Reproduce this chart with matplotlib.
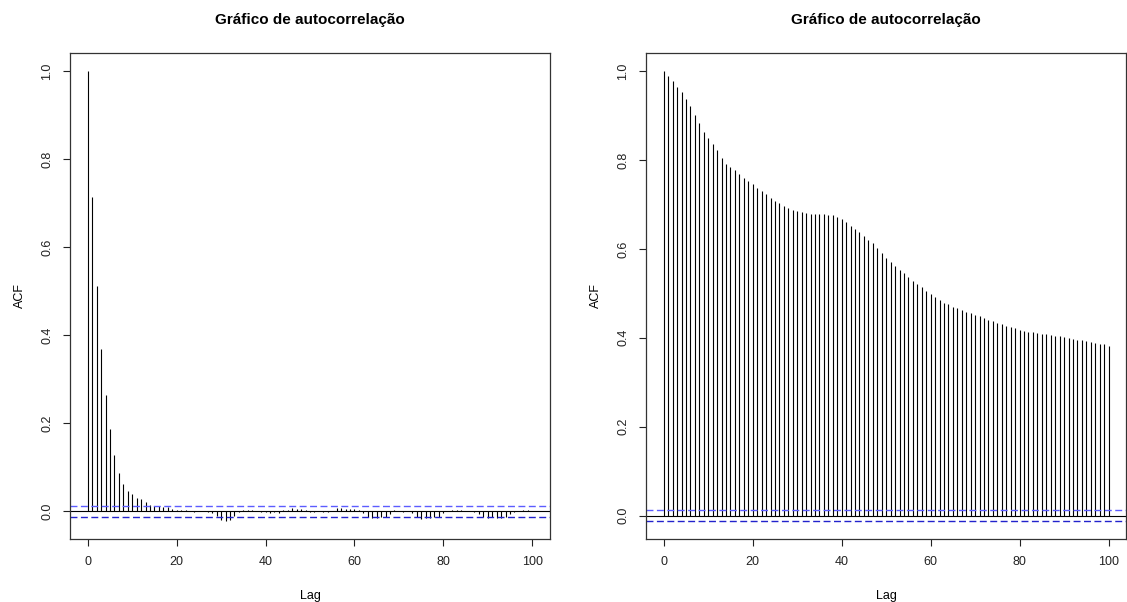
import numpy as np
import matplotlib
matplotlib.use("Agg")
import matplotlib.pyplot as plt

plt.rcParams['font.family'] = ['Liberation Sans', 'DejaVu Sans']

lags = np.arange(0, 101)

# ACF of the first series (fast decay)
acf_left = [1.0, 0.714, 0.511, 0.368, 0.264, 0.187, 0.128, 0.087, 0.061, 0.047,
            0.039, 0.030, 0.027, 0.021, 0.015, 0.013, 0.011, 0.009, 0.010, 0.005,
            0.004, 0.003, 0.003, 0.001, -0.001, 0.0, 0.001, -0.002, -0.005, -0.010,
            -0.019, -0.022, -0.020, -0.011, -0.002, 0.003, 0.003, 0.004, 0.001, -0.001,
            -0.002, -0.003, -0.002, -0.003, 0.002, 0.003, 0.007, 0.006, 0.005, 0.002,
            -0.002, -0.002, 0.001, -0.001, -0.002, 0.001, 0.008, 0.007, 0.006, 0.006,
            0.005, 0.002, -0.003, -0.012, -0.016, -0.015, -0.014, -0.013, -0.006, 0.002,
            0.001, -0.001, 0.0, -0.005, -0.013, -0.017, -0.016, -0.015, -0.013, -0.012,
            -0.004, 0.001, 0.002, 0.004, 0.003, 0.001, 0.0, -0.002, -0.006, -0.014,
            -0.015, -0.014, -0.015, -0.016, -0.013, -0.006, -0.002, 0.001, 0.004, 0.004,
            0.001]

# ACF of the second series (slow decay)
acf_right = [1.000, 0.989, 0.977, 0.964, 0.953, 0.937, 0.921, 0.901, 0.883, 0.863,
             0.849, 0.836, 0.822, 0.804, 0.790, 0.783, 0.777, 0.768, 0.760, 0.753,
             0.746, 0.737, 0.729, 0.723, 0.715, 0.708, 0.702, 0.696, 0.691, 0.687,
             0.684, 0.682, 0.681, 0.679, 0.679, 0.679, 0.678, 0.676, 0.675, 0.671,
             0.668, 0.661, 0.652, 0.644, 0.637, 0.629, 0.621, 0.613, 0.602, 0.591,
             0.580, 0.571, 0.561, 0.553, 0.545, 0.537, 0.528, 0.520, 0.514, 0.506,
             0.499, 0.492, 0.485, 0.479, 0.475, 0.470, 0.466, 0.463, 0.459, 0.455,
             0.451, 0.448, 0.445, 0.441, 0.437, 0.433, 0.430, 0.427, 0.424, 0.421,
             0.418, 0.415, 0.413, 0.412, 0.410, 0.409, 0.408, 0.406, 0.405, 0.403,
             0.401, 0.400, 0.397, 0.395, 0.394, 0.392, 0.391, 0.388, 0.386, 0.385,
             0.382]

# 95% bound, 1.96/sqrt(n)
clim = 0.012

title = "Gráfico de autocorrelação"
xticks = [0, 20, 40, 60, 80, 100]
yticks = [0.0, 0.2, 0.4, 0.6, 0.8, 1.0]


def acf_panel(ax, lag, acf, ci):
    acf = np.asarray(acf)
    ax.vlines(lag, 0, acf, color='black', linewidth=0.8)
    ax.axhline(0, color='black', linewidth=0.8)
    ax.axhline(ci, color='#5c5cff', linewidth=1.0, linestyle=(0, (5, 2.5)))
    ax.axhline(-ci, color='#2222cc', linewidth=1.0, linestyle=(0, (5, 2.5)))

    # R-style 4% axis expansion
    lo = min(acf.min(), -ci)
    hi = max(acf.max(), ci)
    d = (hi - lo) * 0.04
    ax.set_ylim(lo - d, hi + d)
    ax.set_xlim(-4, 104)

    ax.set_xticks(xticks)
    ax.set_yticks(yticks)
    ax.set_yticklabels(['%.1f' % v for v in yticks], rotation=90, va='center')
    ax.tick_params(axis='both', direction='out', length=5, width=0.8,
                   labelsize=9, colors='#222222')
    ax.tick_params(axis='x', pad=7)
    ax.tick_params(axis='y', pad=7)
    for s in ax.spines.values():
        s.set_linewidth(0.9)
        s.set_color('#333333')

    ax.set_title(title, fontsize=11, fontweight='bold', pad=21)
    ax.set_xlabel('Lag', fontsize=9)
    ax.set_ylabel('ACF', fontsize=9)
    ax.xaxis.set_label_coords(0.5, -0.104)
    ax.yaxis.set_label_coords(-0.091, 0.5)


fig = plt.figure(figsize=(11.27, 6.02), dpi=100)
ax1 = fig.add_axes([0.0621, 0.1047, 0.4259, 0.8073])
ax2 = fig.add_axes([0.5732, 0.1047, 0.4262, 0.8073])

acf_panel(ax1, lags, acf_left, clim)
acf_panel(ax2, lags, acf_right, clim)

fig.savefig('out.png', dpi=100)
